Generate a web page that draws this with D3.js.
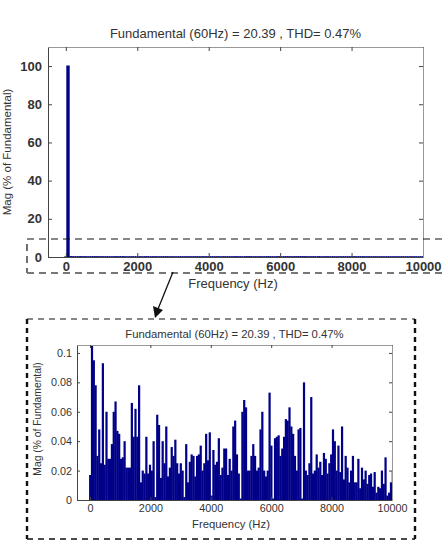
<!DOCTYPE html>
<html>
<head>
<meta charset="utf-8">
<script src="https://cdn.jsdelivr.net/npm/d3@7"></script>
<style>
  body { margin: 0; background: #fff; }
  svg { display: block; font-family: "Liberation Sans", Arial, sans-serif; }
</style>
</head>
<body>
<svg width="442" height="544"></svg>
<script>
// harmonic spectrum, one value per 60 Hz step (0 .. 9960 Hz), % of fundamental
const harmonicStep = 60;
const magnitudes = [
  0.017, 100, 0.095, 0.078, 0.030, 0.048, 0.025, 0.093, 0.024, 0.060,
  0.028, 0.028, 0.038, 0.060, 0.067, 0.047, 0.045, 0.028, 0.029, 0.040,
  0.022, 0.022, 0.022, 0.066, 0.043, 0.062, 0.043, 0.078, 0.012, 0.020,
  0.018, 0.043, 0.018, 0.024, 0.020, 0.040, 0.002, 0.058, 0.051, 0.015,
  0.040, 0.025, 0.050, 0.016, 0.022, 0.036, 0.030, 0.041, 0.025, 0.018,
  0.025, 0.020, 0.002, 0.038, 0.012, 0.026, 0.031, 0.030, 0.016, 0.030,
  0.031, 0.037, 0.020, 0.025, 0.045, 0.027, 0.046, 0.003, 0.034, 0.024,
  0.026, 0.042, 0.017, 0.022, 0.035, 0.035, 0.017, 0.028, 0.020, 0.050,
  0.054, 0.031, 0.018, 0.001, 0.060, 0.068, 0.063, 0.020, 0.020, 0.030,
  0.038, 0.030, 0.020, 0.022, 0.048, 0.060, 0.020, 0.016, 0.020, 0.073,
  0.037, 0.001, 0.042, 0.043, 0.044, 0.030, 0.035, 0.043, 0.055, 0.054,
  0.063, 0.050, 0.045, 0.030, 0.020, 0.048, 0.049, 0.001, 0.080, 0.020,
  0.017, 0.025, 0.070, 0.018, 0.020, 0.031, 0.022, 0.026, 0.017, 0.032,
  0.028, 0.018, 0.025, 0.031, 0.048, 0.040, 0.020, 0.037, 0.019, 0.050,
  0.014, 0.030, 0.022, 0.012, 0.020, 0.030, 0.012, 0.012, 0.028, 0.008,
  0.022, 0.014, 0.020, 0.011, 0.017, 0.018, 0.009, 0.019, 0.005, 0.009,
  0.008, 0.020, 0.011, 0.029, 0.003, 0.005, 0.012, 0.020
];
const xTicks = [0, 2000, 4000, 6000, 8000, 10000];
const yTicksTop = [0, 20, 40, 60, 80, 100];
const yTicksZoom = [0, 0.02, 0.04, 0.06, 0.08, 0.1];
const titleText = "Fundamental (60Hz) = 20.39 , THD= 0.47%";

const data = magnitudes.map((v, i) => ({ f: i * harmonicStep, v: v }));
const svg = d3.select("svg");

function drawPanel(opt) {
  const g = svg.append("g");
  const x = d3.scaleLinear().domain(opt.xDomain).range([opt.left, opt.right]);
  const y = d3.scaleLinear().domain(opt.yDomain).range([opt.bottom, opt.top]);
  const bw = x(harmonicStep) - x(0);
  const cap = d => Math.min(d.v, opt.yDomain[1] * 1.1);

  g.append("clipPath").attr("id", opt.id)
    .append("rect")
    .attr("x", opt.left).attr("y", opt.top)
    .attr("width", opt.right - opt.left).attr("height", opt.bottom - opt.top);

  g.append("g")
    .attr("clip-path", "url(#" + opt.id + ")")
    .selectAll("rect")
    .data(data)
    .join("rect")
    .attr("x", d => x(d.f) - bw / 2)
    .attr("width", bw + opt.overlap)
    .attr("y", d => y(cap(d)))
    .attr("height", d => y(0) - y(cap(d)))
    .attr("fill", "#000088")
    .attr("stroke", opt.edge)
    .attr("stroke-width", opt.edgeWidth);

  // axes (matlab style: ticks inward, box all round)
  const tl = opt.tickLen;
  g.append("g").attr("transform", `translate(0,${opt.bottom})`)
    .call(d3.axisBottom(x).tickValues(xTicks).tickSizeInner(-tl).tickSizeOuter(0).tickPadding(opt.xPad).tickFormat(d3.format("d")));
  const topAx = g.append("g").attr("transform", `translate(0,${opt.top})`)
    .call(d3.axisTop(x).tickValues(xTicks).tickSizeInner(-tl).tickSizeOuter(0).tickFormat(""));
  g.append("g").attr("transform", `translate(${opt.left},0)`)
    .call(d3.axisLeft(y).tickValues(opt.yTicks).tickSizeInner(-tl).tickSizeOuter(0).tickPadding(opt.yPad).tickFormat(opt.yFormat));
  const rightAx = g.append("g").attr("transform", `translate(${opt.right},0)`)
    .call(d3.axisRight(y).tickValues(opt.yTicks).tickSizeInner(-tl).tickSizeOuter(0).tickFormat(""));

  g.selectAll(".domain").attr("stroke", "#444");
  g.selectAll(".tick line").attr("stroke", "#444");
  topAx.select(".domain").attr("stroke", "#999");
  rightAx.select(".domain").attr("stroke", "#999");
  g.selectAll(".tick text")
    .attr("font-family", "Liberation Sans, Arial, sans-serif")
    .attr("font-size", opt.tickFont)
    .attr("font-weight", opt.tickWeight)
    .attr("fill", "#333");

  g.append("text")
    .attr("x", (opt.left + opt.right) / 2).attr("y", opt.titleY)
    .attr("text-anchor", "middle")
    .attr("font-size", opt.titleFont)
    .attr("fill", "#333")
    .text(titleText);

  g.append("text")
    .attr("x", opt.xLabelX).attr("y", opt.xLabelY)
    .attr("text-anchor", "middle")
    .attr("font-size", opt.xLabelFont)
    .attr("fill", "#333")
    .text("Frequency (Hz)");

  g.append("text")
    .attr("transform", `translate(${opt.yLabelX},${opt.yLabelY}) rotate(-90)`)
    .attr("text-anchor", "middle")
    .attr("font-size", opt.yLabelFont)
    .attr("fill", "#333")
    .text("Mag (% of Fundamental)");
}

drawPanel({
  id: "clipTop", left: 48, right: 423, top: 47, bottom: 257,
  xDomain: [-500, 10000], yDomain: [0, 110], yTicks: yTicksTop,
  yFormat: d3.format("d"), tickLen: 4, xPad: 5, yPad: 6,
  tickFont: "13px", tickWeight: "bold", edge: "#000088", edgeWidth: 1.2, overlap: 0,
  titleY: 38, titleFont: "13px",
  xLabelX: 233, xLabelY: 288, xLabelFont: "13px",
  yLabelX: 11, yLabelY: 152, yLabelFont: "11.5px"
});

drawPanel({
  id: "clipZoom", left: 77, right: 392, top: 345, bottom: 500,
  xDomain: [-430, 10000], yDomain: [0, 0.1054], yTicks: yTicksZoom,
  yFormat: d => d === 0 ? "0" : d3.format("")(+d.toFixed(2)), tickLen: 3, xPad: 4, yPad: 5,
  tickFont: "10.8px", tickWeight: "normal", edge: "none", edgeWidth: 0, overlap: 0.4,
  titleY: 338, titleFont: "11.3px",
  xLabelX: 231, xLabelY: 528, xLabelFont: "11.3px",
  yLabelX: 41, yLabelY: 419, yLabelFont: "10.3px"
});

// dashed zoom boxes and arrow
const ann = svg.append("g").attr("fill", "none");
ann.append("path").attr("d", "M442,239 H27 V273").attr("stroke", "#111")
  .attr("stroke-width", 1.2).attr("stroke-dasharray", "7,5");
ann.append("path").attr("d", "M27,273 H442").attr("stroke", "#777")
  .attr("stroke-width", 1.8).attr("stroke-dasharray", "7,5");
ann.append("path").attr("d", "M27,319 H415").attr("stroke", "#111")
  .attr("stroke-width", 1.2).attr("stroke-dasharray", "6,5");
ann.append("path").attr("d", "M27,539 H415").attr("stroke", "#111")
  .attr("stroke-width", 1.6).attr("stroke-dasharray", "6,5");
ann.append("path").attr("d", "M27,319 V539 M415,319 V539").attr("stroke", "#111")
  .attr("stroke-width", 2.4).attr("stroke-dasharray", "5,4");

ann.append("line").attr("x1", 173).attr("y1", 272).attr("x2", 158).attr("y2", 309)
  .attr("stroke", "#111").attr("stroke-width", 1.3);
ann.append("path").attr("d", "M155,318 L153,306 L163,310 Z").attr("fill", "#111");
</script>
</body>
</html>
